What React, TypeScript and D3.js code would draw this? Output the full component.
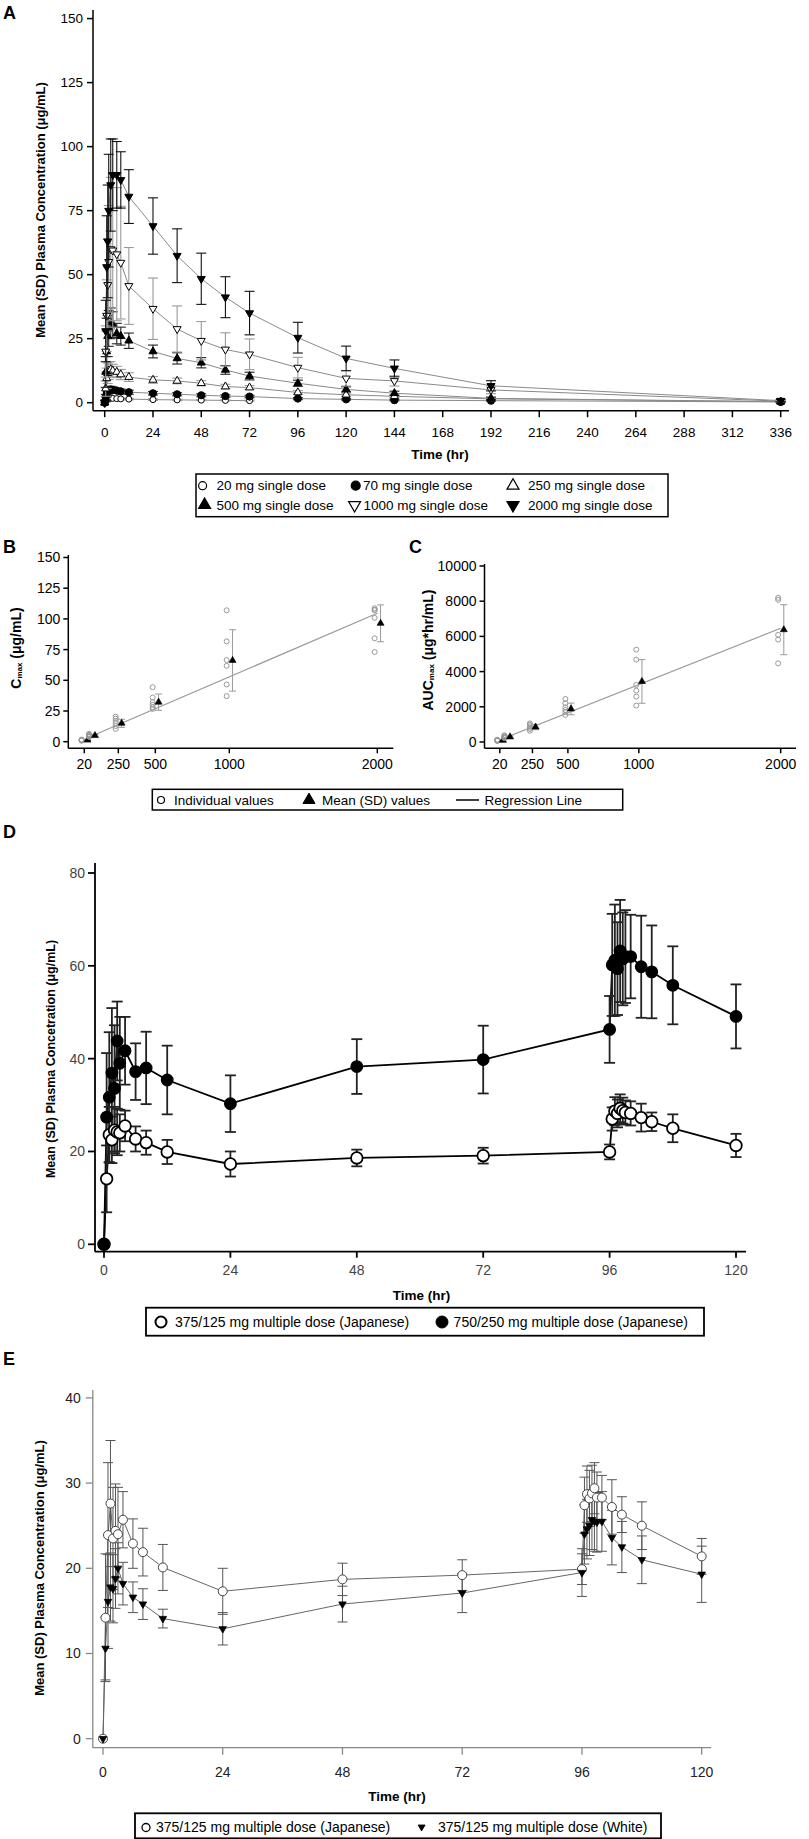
import React from 'react';
import * as d3 from 'd3';

const FONT = "'Liberation Sans', Arial, Helvetica, sans-serif";

// ---------------- Panel A: single dose PK ----------------
const timesA = [0, 0.5, 1, 1.5, 2, 3, 4, 6, 8, 12, 24, 36, 48, 60, 72, 96, 120, 144, 192, 336];
const mean20 = [0, 0.6, 1.1, 1.5, 1.7, 1.8, 1.7, 1.6, 1.5, 1.4, 1.2, 1.1, 1.0, 0.9, 0.8, null, null, null, null, null];
const sd20 = [0, 0.4, 0.5, 0.5, 0.5, 0.4, 0.4, 0.4, 0.3, 0.3, 0.3, 0.3, 0.2, 0.2, 0.2, null, null, null, null, null];
const mean70 = [0, 2.2, 3.6, 4.5, 5.0, 5.2, 5.0, 4.7, 4.4, 4.1, 3.7, 3.3, 2.9, 2.6, 2.4, 1.6, 1.3, 1.0, 0.8, 0.3];
const sd70 = [0, 1.0, 1.3, 1.4, 1.3, 1.2, 1.1, 1.0, 0.9, 0.8, 0.7, 0.6, 0.6, 0.5, 0.5, 0.4, 0.3, 0.3, 0.2, 0.1];
const mean250 = [0, 5.5, 9.5, 11.5, 12.5, 13, 12.5, 12, 11, 10, 8.9, 8.5, 7.6, 6.3, 5.9, 4.0, 3.1, 2.5, 1.5, 0.4];
const sd250 = [0, 3, 4, 4, 3.5, 3, 2.5, 2.2, 2, 1.7, 1.3, 1.1, 1.0, 0.9, 0.8, 0.7, 0.6, 0.5, 0.4, 0.2];
const mean500 = [0, 12, 20, 26, 29, 31, 30.5, 27, 26, 24.2, 20, 17.3, 15.6, 12.8, 10.4, 7.6, 5.2, 3.7, 1.7, 0.4];
const sd500 = [0, 6, 8, 8, 7, 6, 5, 4, 3.5, 3, 2.5, 2.2, 2, 1.7, 1.5, 1.2, 1, 0.8, 0.5, 0.2];
const mean1000 = [0, 20, 34, 46, 55, 60, 59.5, 58, 54.7, 45.6, 36.7, 28.8, 24.2, 20.8, 18.9, 13.7, 9.5, 8.5, 5.0, 0.6];
const sd1000 = [0, 10, 14, 18, 22, 28, 30, 26, 22, 15, 12, 9, 7.5, 6.5, 6, 4, 3, 2, 1.5, 0.3];
const mean2000 = [0, 28, 53, 63, 75, 85, 89, 89, 87, 80.5, 69, 57.4, 48.4, 41.2, 35, 25.4, 17.3, 13.4, 6.6, 0.8];
const sd2000 = [0, 12, 20, 22, 22, 18, 14, 13, 11, 10.5, 11, 10.5, 10, 8, 8.5, 6, 4.8, 3.3, 2, 0.5];
const labelsA = ['20 mg single dose', '70 mg single dose', '250 mg single dose', '500 mg single dose', '1000 mg single dose', '2000 mg single dose'];
const xTicksA = [0, 24, 48, 72, 96, 120, 144, 168, 192, 216, 240, 264, 288, 312, 336];
const yTicksA = [0, 25, 50, 75, 100, 125, 150];

// ---------------- Panels B / C: dose proportionality ----------------
const doses = [20, 70, 250, 500, 1000, 2000];
const doseTicks = [20, 250, 500, 1000, 2000];
const cmaxIndiv = [
  [0.8, 1.1, 1.3, 1.5, 1.7, 1.2],
  [4.0, 4.5, 5.0, 5.6, 6.4, 4.2],
  [10.4, 12.8, 15.0, 16.9, 18.8, 20.4],
  [26.7, 28.1, 30.0, 32.2, 36.0, 44.4],
  [37.1, 46.6, 61.8, 66.5, 81.7, 107.0],
  [73.0, 84.2, 100.8, 107.0, 107.5, 108.7],
];
const cmaxMean = [1.3, 5.0, 15.0, 32.2, 66.2, 96.4];
const cmaxSD = [0.4, 0.9, 3.3, 6.6, 25, 15];
const cmaxReg = [1, 0.0518]; // intercept, slope
const aucIndiv = [
  [60, 80, 90, 100, 110, 130],
  [220, 250, 280, 300, 330, 380],
  [640, 740, 820, 900, 980, 1060],
  [1535, 1690, 1820, 1970, 2200, 2446],
  [2070, 2580, 2920, 3240, 4680, 5250],
  [4470, 5820, 6085, 8080, 8190],
];
const aucMean = [95, 290, 850, 1880, 3440, 6380];
const aucSD = [25, 55, 150, 330, 1240, 1420];
const aucReg = [60, 3.2];
const yTicksB = [0, 25, 50, 75, 100, 125, 150];
const yTicksC = [0, 2000, 4000, 6000, 8000, 10000];

// ---------------- Panel D: multiple dose (Japanese) ----------------
const timesMD = [0, 0.5, 1, 1.5, 2, 2.5, 3, 4, 6, 8, 12, 24, 48, 72, 96, 96.5, 97, 97.5, 98, 98.5, 99, 100, 102, 104, 108, 120];
const d750Mean = [0, 27.4, 31.7, 36.9, 33.6, 43.8, 39.0, 41.7, 37.2, 38.0, 35.4, 30.3, 38.3, 39.8, 46.3, 60.2, 61.2, 59.4, 63.2, 61.5, 62.0, 62.0, 59.8, 58.7, 55.8, 49.1];
const d750SD = [0, 13.8, 14, 14, 13.6, 8.5, 10, 7.3, 6.1, 7.8, 7.4, 6.1, 5.9, 7.3, 7.2, 11, 12, 10, 11, 10, 10, 9, 11, 10, 8.4, 6.9];
const d375Mean = [0, 14.1, 23.6, 22.5, 24.6, 24.2, 24.0, 25.5, 22.7, 21.9, 19.9, 17.3, 18.6, 19.1, 19.9, 27.0, 28.7, 28.2, 29.3, 28.8, 28.4, 28.2, 27.3, 26.4, 25.0, 21.3];
const d375SD = [0, 7.2, 6, 5, 5, 5, 4, 3.3, 2.7, 2.6, 2.6, 2.7, 1.8, 1.7, 1.6, 2.5, 3, 3, 3, 2.8, 2.6, 2.6, 3, 2, 3, 2.5];
const labelsD = ['375/125 mg multiple dose (Japanese)', '750/250 mg multiple dose (Japanese)'];
const xTicksMD = [0, 24, 48, 72, 96, 120];
const yTicksD = [0, 20, 40, 60, 80];

// ---------------- Panel E: Japanese vs White ----------------
const eJpMean = [0, 14.2, 23.9, 27.6, 23.5, 24.4, 24.0, 25.7, 22.9, 21.9, 20.1, 17.3, 18.7, 19.2, 19.9, 27.4, 28.7, 28.2, 28.8, 29.4, 28.3, 28.3, 27.2, 26.3, 25.0, 21.4];
const eJpSD = [0, 7.5, 8.5, 7.4, 6, 5.5, 5.5, 3.3, 2.9, 2.8, 2.7, 2.7, 1.9, 1.8, 1.8, 3.3, 3.3, 3.3, 3.3, 3, 3, 2.6, 3.2, 2.1, 2.8, 2.1];
const eWhMean = [0, 10.6, 16.1, 17.8, 17.6, 18.8, 20.0, 18.2, 16.6, 15.8, 14.1, 12.9, 15.8, 17.1, 19.5, 24.0, 24.6, 25.0, 25.7, 25.5, 25.4, 25.5, 23.6, 22.5, 21.0, 19.3];
const eWhSD = [0, 3.7, 5.5, 4, 4, 3.5, 3, 2.5, 1.8, 1.8, 1.1, 1.9, 2.1, 2.3, 2.8, 3.5, 3.5, 3.5, 3.5, 3.5, 3.5, 3.5, 3.2, 3, 2.8, 3.3];
const labelsE = ['375/125 mg multiple dose (Japanese)', '375/125 mg multiple dose (White)'];
const yTicksE = [0, 10, 20, 30, 40];

// ---------------- helpers ----------------
type MType = 'circle' | 'triUp' | 'triDown';

function Marker({ type, x, y, size, filled, stroke = '#000', sw = 1 }: any) {
  if (type === 'circle') {
    return <circle cx={x} cy={y} r={size} fill={filled ? stroke : '#fff'} stroke={stroke} strokeWidth={sw} />;
  }
  const s = size;
  const h = (s * Math.sqrt(3)) / 2;
  const dir = type === 'triUp' ? 1 : -1;
  const p = `M${x},${y - dir * (2 * h) / 3}L${x + s / 2},${y + dir * h / 3}L${x - s / 2},${y + dir * h / 3}Z`;
  return <path d={p} fill={filled ? stroke : '#fff'} stroke={stroke} strokeWidth={sw} strokeLinejoin="miter" />;
}

function pts(times: number[], means: (number | null)[], sds: (number | null)[]) {
  const out: { t: number; m: number; s: number }[] = [];
  times.forEach((t, i) => {
    if (means[i] != null) out.push({ t, m: means[i] as number, s: (sds[i] ?? 0) as number });
  });
  return out;
}

function SeriesLine({ data, xS, yS, stroke, sw, dash }: any) {
  const line = d3.line<any>().x((d) => xS(d.t)).y((d) => yS(d.m));
  return <path d={line(data) || ''} fill="none" stroke={stroke} strokeWidth={sw} strokeDasharray={dash} />;
}

function ErrBars({ data, xS, yS, stroke, sw, capW }: any) {
  return (
    <g stroke={stroke} strokeWidth={sw} fill="none">
      {data.filter((d: any) => d.s > 0).map((d: any, i: number) => {
        const x = xS(d.t);
        const y1 = yS(d.m + d.s);
        const y2 = yS(Math.max(0, d.m - d.s));
        return (
          <g key={i}>
            <line x1={x} x2={x} y1={y1} y2={y2} />
            <line x1={x - capW / 2} x2={x + capW / 2} y1={y1} y2={y1} />
            <line x1={x - capW / 2} x2={x + capW / 2} y1={y2} y2={y2} />
          </g>
        );
      })}
    </g>
  );
}

function Markers({ data, xS, yS, type, size, filled, stroke, sw }: any) {
  return (
    <g>
      {data.map((d: any, i: number) => (
        <Marker key={i} type={type} x={xS(d.t)} y={yS(d.m)} size={size} filled={filled} stroke={stroke} sw={sw} />
      ))}
    </g>
  );
}

function AxisLeft({ scale, ticks, x, y0, y1, tickLen = 6, gap = 3, fontSize = 13.5, color = '#000', labelColor = '#000', sw = 1.5 }: any) {
  return (
    <g>
      <line x1={x} x2={x} y1={y0} y2={y1} stroke={color} strokeWidth={sw} />
      {ticks.map((t: number) => (
        <g key={t}>
          <line x1={x - tickLen} x2={x} y1={scale(t)} y2={scale(t)} stroke={color} strokeWidth={sw} />
          <text x={x - tickLen - gap} y={scale(t)} dy="0.35em" textAnchor="end" fontSize={fontSize} fill={labelColor} fontFamily={FONT}>
            {t}
          </text>
        </g>
      ))}
    </g>
  );
}

function AxisBottom({ scale, ticks, y, x0, x1, tickLen = 6, labelOff = 20, fontSize = 13.5, color = '#000', labelColor = '#000', sw = 1.5 }: any) {
  return (
    <g>
      <line x1={x0} x2={x1} y1={y} y2={y} stroke={color} strokeWidth={sw} />
      {ticks.map((t: number) => (
        <g key={t}>
          <line x1={scale(t)} x2={scale(t)} y1={y} y2={y + tickLen} stroke={color} strokeWidth={sw} />
          <text x={scale(t)} y={y + labelOff} textAnchor="middle" fontSize={fontSize} fill={labelColor} fontFamily={FONT}>
            {t}
          </text>
        </g>
      ))}
    </g>
  );
}

function PanelLabel({ x, y, text }: any) {
  return (
    <text x={x} y={y} fontSize={18} fontWeight="bold" fontFamily={FONT}>
      {text}
    </text>
  );
}

function YTitle({ x, y, children, fontSize = 13 }: any) {
  return (
    <text transform={`translate(${x},${y}) rotate(-90)`} textAnchor="middle" dominantBaseline="central" fontSize={fontSize} fontWeight="bold" fontFamily={FONT}>
      {children}
    </text>
  );
}

export default function App() {
  // ---------- scales ----------
  const xA = d3.scaleLinear().domain([0, 336]).range([104.7, 780.7]);
  const yA = d3.scaleLinear().domain([0, 150]).range([402.7, 18.6]);

  const xB = d3.scaleLinear().domain([-88, 2108]).range([68.3, 393.3]);
  const yB = d3.scaleLinear().domain([0, 150]).range([741.7, 557.5]);
  const xC = d3.scaleLinear().domain([-88, 2108]).range([484.5, 796]);
  const yC = d3.scaleLinear().domain([0, 10000]).range([742, 566]);

  const xD = d3.scaleLinear().domain([0, 120]).range([104, 736]);
  const yD = d3.scaleLinear().domain([0, 80]).range([1244.3, 873]);

  const xE = d3.scaleLinear().domain([0, 120]).range([103, 701.7]);
  const yE = d3.scaleLinear().domain([0, 40]).range([1738.7, 1397.9]);

  // ---------- panel A series ----------
  const seriesA = [
    { m: mean20, s: sd20, type: 'circle' as MType, size: 3, filled: false, bar: '#999' },
    { m: mean70, s: sd70, type: 'circle' as MType, size: 3.6, filled: true, bar: '#333' },
    { m: mean250, s: sd250, type: 'triUp' as MType, size: 8, filled: false, bar: '#999' },
    { m: mean500, s: sd500, type: 'triUp' as MType, size: 8, filled: true, bar: '#222' },
    { m: mean1000, s: sd1000, type: 'triDown' as MType, size: 8, filled: false, bar: '#999' },
    { m: mean2000, s: sd2000, type: 'triDown' as MType, size: 8, filled: true, bar: '#111' },
  ].map((o) => ({ ...o, data: pts(timesA, o.m, o.s) }));

  const legendA = [
    { row: 0, mx: 202.6, tx: 216.5 },
    { row: 0, mx: 355.7, tx: 363 },
    { row: 0, mx: 513, tx: 528 },
    { row: 1, mx: 204.6, tx: 216.5 },
    { row: 1, mx: 354.6, tx: 363.4 },
    { row: 1, mx: 513, tx: 528 },
  ];
  const legendRowsA = [485.7, 505];

  // ---------- B / C ----------
  const indivOffset = -18;
  const meanOffset = 22;

  const renderDoseProp = (
    xS: any,
    yS: any,
    indiv: number[][],
    means: number[],
    sds: number[],
    reg: number[]
  ) => (
    <g>
      <line
        x1={xS(40)}
        x2={xS(2000)}
        y1={yS(reg[0] + reg[1] * 40)}
        y2={yS(reg[0] + reg[1] * 2000)}
        stroke="#999"
        strokeWidth={1.2}
      />
      {doses.map((d, i) => (
        <g key={d}>
          {indiv[i].map((v, j) => (
            <circle key={j} cx={xS(d + indivOffset)} cy={yS(v)} r={2.5} fill="none" stroke="#999" strokeWidth={1} />
          ))}
          <g stroke="#999" strokeWidth={1}>
            <line x1={xS(d + meanOffset)} x2={xS(d + meanOffset)} y1={yS(means[i] + sds[i])} y2={yS(means[i] - sds[i])} />
            <line x1={xS(d + meanOffset) - 3.5} x2={xS(d + meanOffset) + 3.5} y1={yS(means[i] + sds[i])} y2={yS(means[i] + sds[i])} />
            <line x1={xS(d + meanOffset) - 3.5} x2={xS(d + meanOffset) + 3.5} y1={yS(means[i] - sds[i])} y2={yS(means[i] - sds[i])} />
          </g>
          <Marker type="triUp" x={xS(d + meanOffset)} y={yS(means[i])} size={7} filled stroke="#000" sw={0.6} />
        </g>
      ))}
    </g>
  );

  // ---------- D / E data ----------
  const d375 = pts(timesMD, d375Mean, d375SD);
  const d750 = pts(timesMD, d750Mean, d750SD);
  const eJp = pts(timesMD, eJpMean, eJpSD);
  const eWh = pts(timesMD, eWhMean, eWhSD);

  return (
    <svg
      width={809}
      height={1839}
      style={{ position: 'absolute', left: 0, top: 0, background: '#fff' }}
      fontFamily={FONT}
    >
      <rect x={0} y={0} width={809} height={1839} fill="#fff" />

      {/* ================= Panel A ================= */}
      <PanelLabel x={3} y={19} text="A" />
      <YTitle x={40} y={210} fontSize={13}>Mean (SD) Plasma Concentration (μg/mL)</YTitle>
      <g>
        {seriesA.map((s, i) => (
          <SeriesLine key={i} data={s.data} xS={xA} yS={yA} stroke="#8a8a8a" sw={1} />
        ))}
        {seriesA.map((s, i) => (
          <g key={i}>
            <ErrBars data={s.data} xS={xA} yS={yA} stroke={s.bar} sw={1.1} capW={10} />
            <Markers data={s.data} xS={xA} yS={yA} type={s.type} size={s.size} filled={s.filled} stroke="#000" sw={1} />
          </g>
        ))}
      </g>
      <AxisLeft scale={yA} ticks={yTicksA} x={93} y0={10} y1={410.7} tickLen={6} gap={4} fontSize={13.5} />
      <AxisBottom scale={xA} ticks={xTicksA} y={410.7} x0={93} x1={789} tickLen={6.5} labelOff={26} fontSize={13.5} />
      <text x={440} y={459} textAnchor="middle" fontSize={13.5} fontWeight="bold" fontFamily={FONT}>Time (hr)</text>

      {/* legend A */}
      <rect x={196} y={474} width={472} height={42.7} fill="#fff" stroke="#000" strokeWidth={1.5} />
      {legendA.map((l, i) => {
        const s = seriesA[i];
        const y = legendRowsA[l.row];
        return (
          <g key={i}>
            <Marker type={s.type} x={l.mx} y={y} size={s.type === 'circle' ? (s.filled ? 4.5 : 4) : 12} filled={s.filled} stroke="#000" sw={1.2} />
            <text x={l.tx} y={y} dy="0.35em" fontSize={13.5} fontFamily={FONT}>{labelsA[i]}</text>
          </g>
        );
      })}

      {/* ================= Panel B ================= */}
      <PanelLabel x={3} y={553} text="B" />
      <YTitle x={16} y={648} fontSize={14}>
        <tspan>C</tspan>
        <tspan fontSize={8} dy={3}>max</tspan>
        <tspan dy={-3}> (μg/mL)</tspan>
      </YTitle>
      {renderDoseProp(xB, yB, cmaxIndiv, cmaxMean, cmaxSD, cmaxReg)}
      <AxisLeft scale={yB} ticks={yTicksB} x={68.3} y0={555} y1={748.3} tickLen={5} gap={3} fontSize={14} />
      <AxisBottom scale={xB} ticks={doseTicks} y={748.3} x0={68.3} x1={393.3} tickLen={5} labelOff={21} fontSize={14} />

      {/* ================= Panel C ================= */}
      <PanelLabel x={409} y={553} text="C" />
      <YTitle x={428} y={650} fontSize={14}>
        <tspan>AUC</tspan>
        <tspan fontSize={8} dy={3}>max</tspan>
        <tspan dy={-3}> (μg*hr/mL)</tspan>
      </YTitle>
      {renderDoseProp(xC, yC, aucIndiv, aucMean, aucSD, aucReg)}
      <AxisLeft scale={yC} ticks={yTicksC} x={484.5} y0={564} y1={748.3} tickLen={5} gap={3} fontSize={14} />
      <AxisBottom scale={xC} ticks={doseTicks} y={748.3} x0={484.5} x1={796} tickLen={5} labelOff={21} fontSize={14} />

      {/* legend B/C */}
      <rect x={152.3} y={789.3} width={470.4} height={20.7} fill="#fff" stroke="#000" strokeWidth={1.5} />
      <circle cx={161} cy={800} r={3.5} fill="#fff" stroke="#000" strokeWidth={1.2} />
      <text x={174} y={800} dy="0.35em" fontSize={13.5} fontFamily={FONT}>Individual values</text>
      <Marker type="triUp" x={309} y={800} size={12} filled stroke="#000" sw={1} />
      <text x={322} y={800} dy="0.35em" fontSize={13.5} fontFamily={FONT}>Mean (SD) values</text>
      <line x1={456} x2={479} y1={800} y2={800} stroke="#000" strokeWidth={1.5} />
      <text x={484.5} y={800} dy="0.35em" fontSize={13.5} fontFamily={FONT}>Regression Line</text>

      {/* ================= Panel D ================= */}
      <PanelLabel x={3} y={838} text="D" />
      <YTitle x={51} y={1059} fontSize={12.5}>Mean (SD) Plasma Concetration (μg/mL)</YTitle>
      <SeriesLine data={d375} xS={xD} yS={yD} stroke="#000" sw={1.8} />
      <SeriesLine data={d750} xS={xD} yS={yD} stroke="#000" sw={1.8} />
      <ErrBars data={d750} xS={xD} yS={yD} stroke="#222" sw={1.8} capW={11} />
      <ErrBars data={d375} xS={xD} yS={yD} stroke="#222" sw={1.8} capW={11} />
      <Markers data={d375} xS={xD} yS={yD} type="circle" size={5.8} filled={false} stroke="#000" sw={1.8} />
      <Markers data={d750} xS={xD} yS={yD} type="circle" size={5.8} filled stroke="#000" sw={1.2} />
      <AxisLeft scale={yD} ticks={yTicksD} x={95} y0={863} y1={1251.7} tickLen={7} gap={3} fontSize={14} color="#000" labelColor="#444" sw={1.8} />
      <AxisBottom scale={xD} ticks={xTicksMD} y={1251.7} x0={95} x1={746} tickLen={6} labelOff={23.5} fontSize={14} color="#000" labelColor="#444" sw={1.8} />
      <text x={421.6} y={1300} textAnchor="middle" fontSize={13.5} fontWeight="bold" fontFamily={FONT}>Time (hr)</text>

      {/* legend D */}
      <rect x={146} y={1307.7} width={558} height={28} fill="#fff" stroke="#000" strokeWidth={1.8} />
      <circle cx={161} cy={1322} r={5.5} fill="#fff" stroke="#000" strokeWidth={2} />
      <text x={175} y={1322} dy="0.35em" fontSize={14} fontFamily={FONT}>{labelsD[0]}</text>
      <circle cx={442} cy={1322} r={6} fill="#000" stroke="#000" strokeWidth={1} />
      <text x={453.6} y={1322} dy="0.35em" fontSize={14} fontFamily={FONT}>{labelsD[1]}</text>

      {/* ================= Panel E ================= */}
      <PanelLabel x={3} y={1365} text="E" />
      <YTitle x={39} y={1568} fontSize={13}>Mean (SD) Plasma Concentration (μg/mL)</YTitle>
      <SeriesLine data={eJp} xS={xE} yS={yE} stroke="#666" sw={1} />
      <SeriesLine data={eWh} xS={xE} yS={yE} stroke="#666" sw={1} />
      <ErrBars data={eJp} xS={xE} yS={yE} stroke="#555" sw={1} capW={10} />
      <ErrBars data={eWh} xS={xE} yS={yE} stroke="#555" sw={1} capW={10} />
      <Markers data={eJp} xS={xE} yS={yE} type="circle" size={4.5} filled={false} stroke="#444" sw={1} />
      <Markers data={eWh} xS={xE} yS={yE} type="triDown" size={7.5} filled stroke="#000" sw={0.8} />
      <AxisLeft scale={yE} ticks={yTicksE} x={92.8} y0={1390} y1={1747.7} tickLen={7} gap={5} fontSize={14} color="#888" labelColor="#222" sw={1.3} />
      <AxisBottom scale={xE} ticks={xTicksMD} y={1747.7} x0={92.8} x1={711} tickLen={7} labelOff={29} fontSize={14} color="#888" labelColor="#222" sw={1.3} />
      <text x={397} y={1801} textAnchor="middle" fontSize={13.5} fontWeight="bold" fontFamily={FONT}>Time (hr)</text>

      {/* legend E */}
      <rect x={135} y={1813.3} width={526} height={25} fill="#fff" stroke="#000" strokeWidth={1.8} />
      <circle cx={146} cy={1827.5} r={4} fill="#fff" stroke="#000" strokeWidth={1.3} />
      <text x={156} y={1827.5} dy="0.35em" fontSize={14} fontFamily={FONT}>{labelsE[0]}</text>
      <Marker type="triDown" x={421.6} y={1827} size={7} filled stroke="#000" sw={0.8} />
      <text x={438} y={1827.5} dy="0.35em" fontSize={14} fontFamily={FONT}>{labelsE[1]}</text>
    </svg>
  );
}
